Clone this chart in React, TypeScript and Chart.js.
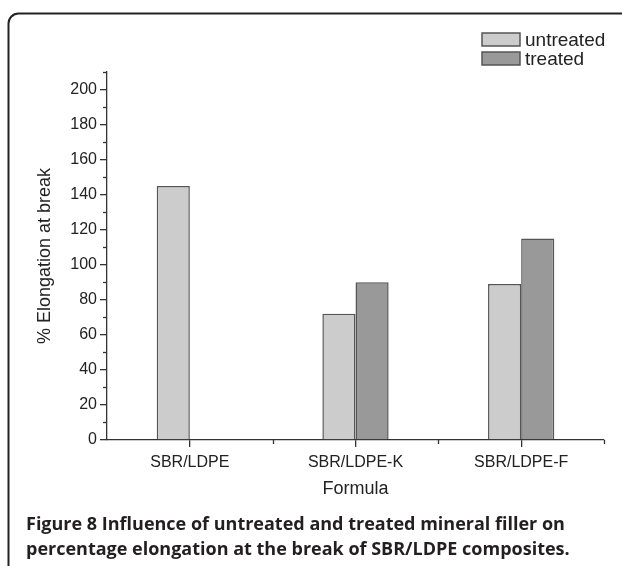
import React, { useEffect, useRef } from 'react';
import { Chart, registerables } from 'chart.js';

Chart.register(...registerables);

const categories = ['SBR/LDPE', 'SBR/LDPE-K', 'SBR/LDPE-F'];
const untreatedValues = [145, 72, 89];
const treatedValues: (number | null)[] = [null, 90, 115];
const seriesNames = ['untreated', 'treated'];
const yTickValues = [0, 20, 40, 60, 80, 100, 120, 140, 160, 180, 200];
const yMinorValues = [10, 30, 50, 70, 90, 110, 130, 150, 170, 190, 210];
const xTitle = 'Formula';
const yTitle = '% Elongation at break';
const captionBold = 'Figure 8';
const captionLines = [
  ' Influence of untreated and treated mineral filler on',
  'percentage elongation at the break of SBR/LDPE composites.',
];

const FONT = "'Liberation Sans', Arial, Helvetica, sans-serif";
const CAP_FONT = "'Open Sans', 'Noto Sans', sans-serif";
const AXIS = '#333333';
const TEXT = '#222222';
const COLORS = ['#cccccc', '#999999'];
const EDGE = '#555555';

const decor = {
  id: 'decor',
  beforeDraw(chart: any) {
    const ctx = chart.ctx;
    ctx.save();
    ctx.fillStyle = '#ffffff';
    ctx.fillRect(0, 0, chart.width, chart.height);
    // rounded frame
    const x0 = 8.5, y0 = 13.5, r = 10;
    ctx.strokeStyle = '#222222';
    ctx.lineWidth = 2;
    ctx.beginPath();
    ctx.moveTo(x0, chart.height + 10);
    ctx.lineTo(x0, y0 + r);
    ctx.arcTo(x0, y0, x0 + r, y0, r);
    ctx.lineTo(chart.width + 10, y0);
    ctx.stroke();
    ctx.restore();
  },
  afterDraw(chart: any) {
    const ctx = chart.ctx;
    const xs = chart.scales.x;
    const ys = chart.scales.y;
    ctx.save();
    ctx.strokeStyle = AXIS;
    ctx.lineWidth = 1.3;
    // y minor ticks
    const ax = ys.right;
    yMinorValues.forEach((v) => {
      const y = Math.round(ys.getPixelForValue(v)) + 0.5;
      ctx.beginPath();
      ctx.moveTo(ax - 4, y);
      ctx.lineTo(ax, y);
      ctx.stroke();
    });
    // x minor ticks at category boundaries and right end
    const by = xs.top;
    for (let i = 0; i < categories.length; i++) {
      const xx = i + 1 < categories.length
        ? (xs.getPixelForValue(i) + xs.getPixelForValue(i + 1)) / 2
        : xs.right;
      ctx.beginPath();
      ctx.moveTo(Math.round(xx) + 0.5, by);
      ctx.lineTo(Math.round(xx) + 0.5, by + 4);
      ctx.stroke();
    }
    // legend
    const lx = 482, ly = [33, 52], bw = 38, bh = 13;
    ctx.font = `19px ${FONT}`;
    ctx.textBaseline = 'middle';
    ctx.textAlign = 'left';
    chart.data.datasets.forEach((ds: any, i: number) => {
      ctx.fillStyle = ds.backgroundColor;
      ctx.fillRect(lx, ly[i], bw, bh);
      ctx.strokeStyle = EDGE;
      ctx.lineWidth = 1.5;
      ctx.strokeRect(lx, ly[i], bw, bh);
      ctx.fillStyle = TEXT;
      ctx.fillText(ds.label, lx + 43, ly[i] + bh / 2 + 1);
    });
    // caption
    ctx.fillStyle = '#231f20';
    ctx.textBaseline = 'alphabetic';
    ctx.font = `bold 18px ${CAP_FONT}`;
    const cx = 26;
    ctx.fillText(captionBold, cx, 530);
    const w = ctx.measureText(captionBold).width;
    ctx.fillText(captionLines[0], cx + w, 530);
    ctx.fillText(captionLines[1], cx, 555);
    ctx.restore();
  },
};

export default function App() {
  const ref = useRef<HTMLCanvasElement | null>(null);
  useEffect(() => {
    if (!ref.current) return;
    const chart = new Chart(ref.current, {
      type: 'bar',
      data: {
        labels: categories,
        datasets: [
          {
            label: seriesNames[0],
            data: untreatedValues,
            backgroundColor: COLORS[0],
            borderColor: EDGE,
            borderWidth: 1.5,
            categoryPercentage: 0.4,
            barPercentage: 1,
          },
          {
            label: seriesNames[1],
            data: treatedValues,
            backgroundColor: COLORS[1],
            borderColor: EDGE,
            borderWidth: 1.5,
            categoryPercentage: 0.4,
            barPercentage: 1,
          },
        ],
      },
      options: {
        responsive: false,
        animation: false,
        devicePixelRatio: 1,
        layout: { padding: { left: 30, top: 72, right: 18, bottom: 60 } },
        plugins: { legend: { display: false }, tooltip: { enabled: false } },
        scales: {
          x: {
            grid: {
              display: true,
              offset: false,
              drawOnChartArea: false,
              drawTicks: true,
              tickLength: 7,
              color: AXIS,
              lineWidth: 1.3,
            },
            border: { display: true, color: AXIS, width: 1.3 },
            ticks: {
              color: TEXT,
              font: { family: FONT, size: 16 },
              padding: 6,
              maxRotation: 0,
              autoSkip: false,
            },
            title: {
              display: true,
              text: xTitle,
              color: TEXT,
              font: { family: FONT, size: 18 },
              padding: { top: 0, bottom: 6 },
            },
            afterFit: (s: any) => {
              s.height = 66;
            },
          },
          y: {
            min: 0,
            max: 210,
            afterBuildTicks: (s: any) => {
              s.ticks = yTickValues.map((v) => ({ value: v }));
            },
            grid: {
              display: true,
              drawOnChartArea: false,
              drawTicks: true,
              tickLength: 7,
              color: AXIS,
              lineWidth: 1.3,
            },
            border: { display: true, color: AXIS, width: 1.3 },
            ticks: {
              color: TEXT,
              font: { family: FONT, size: 16 },
              padding: 3,
            },
            title: {
              display: true,
              text: yTitle,
              color: TEXT,
              font: { family: FONT, size: 18 },
              padding: { top: 4, bottom: 0 },
            },
            afterFit: (s: any) => {
              s.width = 77;
            },
          },
        },
      },
      plugins: [decor],
    });
    return () => chart.destroy();
  }, []);
  return (
    <div style={{ position: 'fixed', left: 0, top: 0, width: 622, height: 566, background: '#fff' }}>
      <canvas ref={ref} width={622} height={566} style={{ display: 'block', width: 622, height: 566 }} />
    </div>
  );
}
